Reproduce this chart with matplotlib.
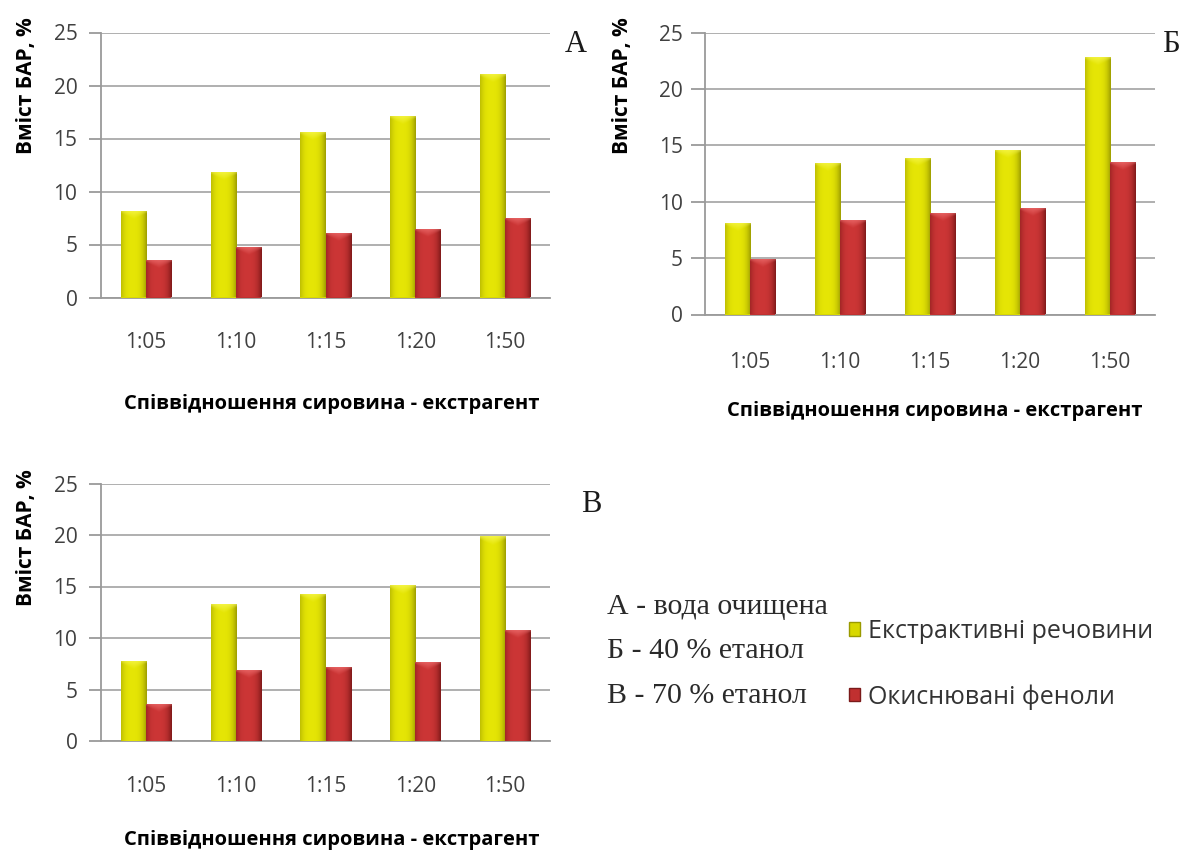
import numpy as np
import matplotlib
matplotlib.use("Agg")
import matplotlib.pyplot as plt
from matplotlib.patches import Patch

# ratio of raw material to extractant
categories = ["1:05", "1:10", "1:15", "1:20", "1:50"]

# A - purified water
water_extractives = [8.2, 11.8, 15.6, 17.1, 21.1]
water_phenols = [3.5, 4.8, 6.1, 6.5, 7.5]

# Б - 40 % ethanol
eth40_extractives = [8.1, 13.4, 13.9, 14.6, 22.8]
eth40_phenols = [4.9, 8.4, 9.0, 9.4, 13.5]

# В - 70 % ethanol
eth70_extractives = [7.8, 13.3, 14.3, 15.1, 19.9]
eth70_phenols = [3.6, 6.9, 7.2, 7.7, 10.8]

series_names = ["Екстрактивні речовини", "Окиснювані феноли"]
y_ticks = [0, 5, 10, 15, 20, 25]
y_title = "Вміст БАР, %"
x_title = "Співвідношення сировина - екстрагент"
legend_lines = ["А - вода очищена", "Б - 40 % етанол", "В - 70 % етанол"]

SANS = ["Open Sans", "DejaVu Sans"]
SERIF = ["Liberation Serif", "DejaVu Serif"]

W, H = 1183, 860
fig = plt.figure(figsize=(W / 100, H / 100), dpi=100)
fig.patch.set_facecolor("white")

# colour sets: (edge/dark, centre/light, flat face, bevel tint)
YELLOW = (np.array([0.62, 0.62, 0.0]), np.array([0.90, 0.90, 0.02]), "#d8d800",
          np.array([1.0, 1.0, 0.45]))
RED = (np.array([0.50, 0.10, 0.10]), np.array([0.80, 0.21, 0.21]), "#c03030",
       np.array([1.0, 0.55, 0.55]))


def px_axes(left, top, right, bottom):
    """Create axes from pixel bounds of the plotting area."""
    return fig.add_axes([left / W, 1 - bottom / H, (right - left) / W, (bottom - top) / H])


def shade(ax, patch, colors, px_per_unit):
    dark, light, _, tint = colors
    x, y = patch.get_x(), patch.get_y()
    w, h = patch.get_width(), patch.get_height()
    ncol, nrow = 48, 240
    u = np.linspace(0, 1, ncol)
    # flat bright face with darker rims
    prof = np.clip(1 - (np.abs(u - 0.45) / 0.55) ** 3, 0, 1)
    base = dark[None, :] + (light - dark)[None, :] * prof[:, None]
    yv = np.linspace(0, h, nrow)
    dist_top = (h - yv) * px_per_unit
    vshape = np.abs(u - 0.5)
    img = np.zeros((nrow, ncol, 3))
    for r in range(nrow):
        lim = 3.0 + 12.0 * (0.5 - vshape)  # chevron bevel at the top
        k = np.clip(1 - dist_top[r] / lim, 0, 1) * 0.55
        img[r] = base * (1 - k[:, None]) + tint[None, :] * k[:, None]
    im = ax.imshow(img, extent=[x, x + w, y, y + h], origin="lower", aspect="auto",
                   interpolation="bilinear", zorder=patch.get_zorder() + 0.1)
    im.set_clip_path(patch)


def panel(ax, extr, phen, letter_xy, letter, px_per_unit, ylab_xy, xlab_xy, tick_len, tick_pad,
          xpad):
    x = np.arange(len(categories))
    bw = 0.28
    b1 = ax.bar(x - bw / 2, extr, bw, color=YELLOW[2], zorder=3, linewidth=0)
    b2 = ax.bar(x + bw / 2, phen, bw, color=RED[2], zorder=3, linewidth=0)
    for p in b1:
        shade(ax, p, YELLOW, px_per_unit)
    for p in b2:
        shade(ax, p, RED, px_per_unit)
    ax.set_xlim(-0.5, len(categories) - 0.5)
    ax.set_ylim(0, 25)
    ax.set_yticks(y_ticks)
    ax.set_xticks(x)
    ax.set_xticklabels(categories)
    ax.yaxis.grid(True, color="#a9a9a9", linewidth=1.3, zorder=0)
    ax.set_axisbelow(True)
    for s in ("top", "right"):
        ax.spines[s].set_visible(False)
    ax.spines["left"].set_color("#9a9a9a")
    ax.spines["bottom"].set_color("#9a9a9a")
    ax.spines["left"].set_linewidth(1.3)
    ax.spines["bottom"].set_linewidth(1.3)
    ax.tick_params(axis="y", length=tick_len, width=1.3, color="#9a9a9a", pad=tick_pad,
                   labelsize=15, labelcolor="#404040")
    ax.tick_params(axis="x", length=0, pad=xpad, labelsize=15, labelcolor="#404040")
    for t in ax.get_xticklabels() + ax.get_yticklabels():
        t.set_family(SANS)
    ax.set_ylabel(y_title, fontsize=15, fontweight="bold", family=SANS)
    ax.yaxis.set_label_coords(*ylab_xy)
    ax.yaxis.label.set_va("center")
    ax.set_xlabel(x_title, fontsize=14.5, fontweight="bold", family=SANS)
    ax.xaxis.set_label_coords(*xlab_xy)
    ax.xaxis.label.set_va("center")
    ax.set_facecolor("white")
    fig.text(letter_xy[0] / W, 1 - letter_xy[1] / H, letter, family=SERIF, fontsize=22,
             ha="center", va="center", color="#1a1a1a")


axA = px_axes(101, 32.5, 550, 297.5)
panel(axA, water_extractives, water_phenols, (576, 45), "А", 265 / 25,
      (-0.167, 0.80), (0.515, -0.40), 9, 8, 25)

axB = px_axes(705, 32.5, 1155, 314.5)
panel(axB, eth40_extractives, eth40_phenols, (1171, 45), "Б", 282 / 25,
      (-0.184, 0.81), (0.51, -0.343), 10, 6, 27)

axC = px_axes(101, 483.5, 550, 741)
panel(axC, eth70_extractives, eth70_phenols, (591, 505), "В", 257.5 / 25,
      (-0.167, 0.788), (0.515, -0.384), 9, 8, 25)

# solvent key
for i, line in enumerate(legend_lines):
    fig.text(607 / W, 1 - (607 + 44.5 * i) / H, line, family=SERIF, fontsize=21.5,
             ha="left", va="center", color="#2a2a2a")

handles = [Patch(facecolor=YELLOW[2], edgecolor="#9a9a00"),
           Patch(facecolor=RED[2], edgecolor="#7a1a1a")]
leg = fig.legend(handles, series_names, loc="upper left",
                 bbox_to_anchor=(849 / W, 1 - 619 / H), frameon=False,
                 borderpad=0, borderaxespad=0, handlelength=0.45, handleheight=0.45,
                 handletextpad=0.3, labelspacing=1.6,
                 prop={"family": SANS, "size": 18})
for t in leg.get_texts():
    t.set_color("#333333")

fig.savefig("out.png", dpi=100, facecolor="white")
